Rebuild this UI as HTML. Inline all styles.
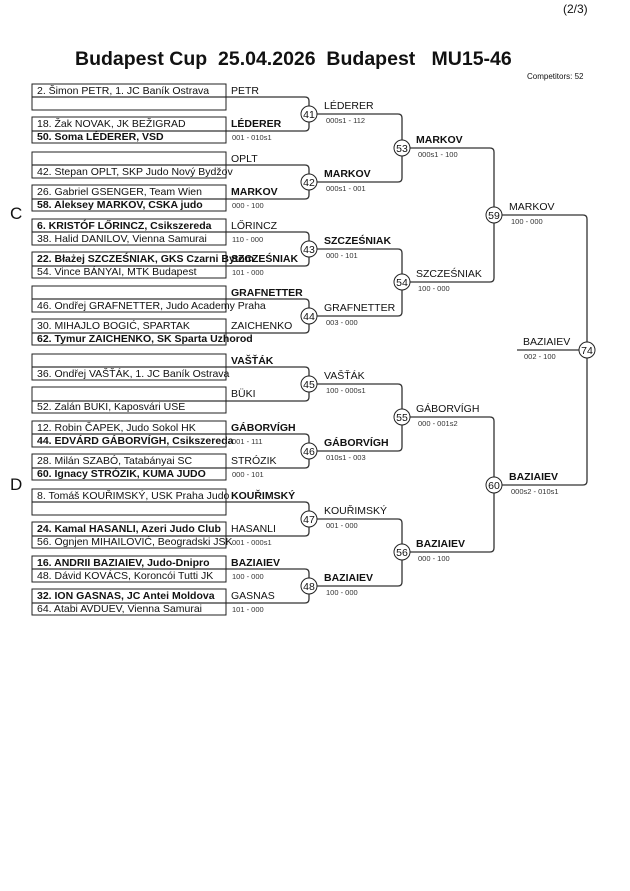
<!DOCTYPE html>
<html><head><meta charset="utf-8"><style>
html,body{margin:0;padding:0;background:#fff;width:630px;height:891px;overflow:hidden}
svg{display:block}
text{font-family:"Liberation Sans",Arial,sans-serif;fill:#111}
.n{font-size:10.5px}
.b{font-size:10.5px;font-weight:bold}
.s{font-size:7.5px;fill:#333}
.c{font-size:10.5px;text-anchor:middle}
rect{fill:none;stroke:#222;stroke-width:1}
path{fill:none;stroke:#333;stroke-width:1.3}
circle{fill:#fff;stroke:#222;stroke-width:1}
</style></head><body>
<svg width="630" height="891" viewBox="0 0 630 891" xmlns="http://www.w3.org/2000/svg">
<text x="563" y="13" style="font-size:12px">(2/3)</text>
<text x="75" y="65" xml:space="preserve" style="font-size:19.5px;font-weight:bold;white-space:pre">Budapest Cup  25.04.2026  Budapest   MU15-46</text>
<text x="527" y="79" style="font-size:8px">Competitors: 52</text>
<text x="10" y="219" style="font-size:17px">C</text>
<text x="10" y="490" style="font-size:17px">D</text>

<g>
<path d="M32 97 H305 Q309 97 309 101 V127 Q309 131 305 131 H32"/>
<path d="M32 165 H305 Q309 165 309 169 V195 Q309 199 305 199 H32"/>
<path d="M32 232 H305 Q309 232 309 236 V262 Q309 266 305 266 H32"/>
<path d="M32 299 H305 Q309 299 309 303 V329 Q309 333 305 333 H32"/>
<path d="M32 367 H305 Q309 367 309 371 V397 Q309 401 305 401 H32"/>
<path d="M32 434 H305 Q309 434 309 438 V464 Q309 468 305 468 H32"/>
<path d="M32 502 H305 Q309 502 309 506 V532 Q309 536 305 536 H32"/>
<path d="M32 569 H305 Q309 569 309 573 V599 Q309 603 305 603 H32"/>
</g>
<g>
<rect x="32" y="84" width="194" height="26"/><rect x="32" y="117" width="194" height="26"/>
<rect x="32" y="152" width="194" height="26"/><rect x="32" y="185" width="194" height="26"/>
<rect x="32" y="219" width="194" height="26"/><rect x="32" y="252" width="194" height="26"/>
<rect x="32" y="286" width="194" height="26"/><rect x="32" y="319" width="194" height="26"/>
<rect x="32" y="354" width="194" height="26"/><rect x="32" y="387" width="194" height="26"/>
<rect x="32" y="421" width="194" height="26"/><rect x="32" y="454" width="194" height="26"/>
<rect x="32" y="489" width="194" height="26"/><rect x="32" y="522" width="194" height="26"/>
<rect x="32" y="556" width="194" height="26"/><rect x="32" y="589" width="194" height="26"/>
</g>

<path d="M309 114 H398 Q402 114 402 118 V178 Q402 182 398 182 H309"/>
<path d="M309 249 H398 Q402 249 402 253 V312 Q402 316 398 316 H309"/>
<path d="M309 384 H398 Q402 384 402 388 V447 Q402 451 398 451 H309"/>
<path d="M309 519 H398 Q402 519 402 523 V582 Q402 586 398 586 H309"/>
<path d="M402 148 H490 Q494 148 494 152 V278 Q494 282 490 282 H402"/>
<path d="M402 417 H490 Q494 417 494 421 V548 Q494 552 490 552 H402"/>
<path d="M494 215 H583 Q587 215 587 219 V481 Q587 485 583 485 H494"/>
<path d="M517 350 H587"/>

<circle cx="309" cy="114" r="8"/><text class="c" x="309" y="118">41</text>
<circle cx="309" cy="182" r="8"/><text class="c" x="309" y="186">42</text>
<circle cx="309" cy="249" r="8"/><text class="c" x="309" y="253">43</text>
<circle cx="309" cy="316" r="8"/><text class="c" x="309" y="320">44</text>
<circle cx="309" cy="384" r="8"/><text class="c" x="309" y="388">45</text>
<circle cx="309" cy="451" r="8"/><text class="c" x="309" y="455">46</text>
<circle cx="309" cy="519" r="8"/><text class="c" x="309" y="523">47</text>
<circle cx="309" cy="586" r="8"/><text class="c" x="309" y="590">48</text>
<circle cx="402" cy="148" r="8"/><text class="c" x="402" y="152">53</text>
<circle cx="402" cy="282" r="8"/><text class="c" x="402" y="286">54</text>
<circle cx="402" cy="417" r="8"/><text class="c" x="402" y="421">55</text>
<circle cx="402" cy="552" r="8"/><text class="c" x="402" y="556">56</text>
<circle cx="494" cy="215" r="8"/><text class="c" x="494" y="219">59</text>
<circle cx="494" cy="485" r="8"/><text class="c" x="494" y="489">60</text>
<circle cx="587" cy="350" r="8"/><text class="c" x="587" y="354">74</text>

<text class="n" x="37" y="94">2. Šimon PETR, 1. JC Baník Ostrava</text>
<text class="n" x="37" y="127">18. Žak NOVAK, JK BEŽIGRAD</text>
<text class="b" x="37" y="140">50. Soma LÉDERER, VSD</text>
<text class="n" x="231" y="94">PETR</text>
<text class="b" x="231" y="127">LÉDERER</text>
<text class="s" x="232" y="140">001 - 010s1</text>

<text class="n" x="37" y="175">42. Stepan OPLT, SKP Judo Nový Bydžov</text>
<text class="n" x="37" y="195">26. Gabriel GSENGER, Team Wien</text>
<text class="b" x="37" y="208">58. Aleksey MARKOV, CSKA judo</text>
<text class="n" x="231" y="162">OPLT</text>
<text class="b" x="231" y="195">MARKOV</text>
<text class="s" x="232" y="208">000 - 100</text>

<text class="b" x="37" y="229">6. KRISTÓF LŐRINCZ, Csikszereda</text>
<text class="n" x="37" y="242">38. Halid DANILOV, Vienna Samurai</text>
<text class="b" x="37" y="262">22. Błażej SZCZEŚNIAK, GKS Czarni Bytom</text>
<text class="n" x="37" y="275">54. Vince BÁNYAI, MTK Budapest</text>
<text class="n" x="231" y="229">LŐRINCZ</text>
<text class="s" x="232" y="242">110 - 000</text>
<text class="b" x="231" y="262">SZCZEŚNIAK</text>
<text class="s" x="232" y="275">101 - 000</text>

<text class="n" x="37" y="309">46. Ondřej GRAFNETTER, Judo Academy Praha</text>
<text class="n" x="37" y="329">30. MIHAJLO BOGIĆ, SPARTAK</text>
<text class="b" x="37" y="342">62. Tymur ZAICHENKO, SK Sparta Uzhorod</text>
<text class="b" x="231" y="296">GRAFNETTER</text>
<text class="n" x="231" y="329">ZAICHENKO</text>

<text class="n" x="37" y="377">36. Ondřej VAŠŤÁK, 1. JC Baník Ostrava</text>
<text class="n" x="37" y="410">52. Zalán BUKI, Kaposvári USE</text>
<text class="b" x="231" y="364">VAŠŤÁK</text>
<text class="n" x="231" y="397">BÜKI</text>

<text class="n" x="37" y="431">12. Robin ČAPEK, Judo Sokol HK</text>
<text class="b" x="37" y="444">44. EDVÁRD GÁBORVÍGH, Csikszereda</text>
<text class="n" x="37" y="464">28. Milán SZABÓ, Tatabányai SC</text>
<text class="b" x="37" y="477">60. Ignacy STRÓZIK, KUMA JUDO</text>
<text class="b" x="231" y="431">GÁBORVÍGH</text>
<text class="s" x="232" y="444">001 - 111</text>
<text class="n" x="231" y="464">STRÓZIK</text>
<text class="s" x="232" y="477">000 - 101</text>

<text class="n" x="37" y="499">8. Tomáš KOUŘIMSKÝ, USK Praha Judo</text>
<text class="b" x="37" y="532">24. Kamal HASANLI, Azeri Judo Club</text>
<text class="n" x="37" y="545">56. Ognjen MIHAILOVIĆ, Beogradski JSK</text>
<text class="b" x="231" y="499">KOUŘIMSKÝ</text>
<text class="n" x="231" y="532">HASANLI</text>
<text class="s" x="232" y="545">001 - 000s1</text>

<text class="b" x="37" y="566">16. ANDRII BAZIAIEV, Judo-Dnipro</text>
<text class="n" x="37" y="579">48. Dávid KOVÁCS, Koroncói Tutti JK</text>
<text class="b" x="37" y="599">32. ION GASNAS, JC Antei Moldova</text>
<text class="n" x="37" y="612">64. Atabi AVDUEV, Vienna Samurai</text>
<text class="b" x="231" y="566">BAZIAIEV</text>
<text class="s" x="232" y="579">100 - 000</text>
<text class="n" x="231" y="599">GASNAS</text>
<text class="s" x="232" y="612">101 - 000</text>

<text class="n" x="324" y="109">LÉDERER</text><text class="s" x="326" y="123">000s1 - 112</text>
<text class="b" x="324" y="177">MARKOV</text><text class="s" x="326" y="191">000s1 - 001</text>
<text class="b" x="324" y="244">SZCZEŚNIAK</text><text class="s" x="326" y="258">000 - 101</text>
<text class="n" x="324" y="311">GRAFNETTER</text><text class="s" x="326" y="325">003 - 000</text>
<text class="n" x="324" y="379">VAŠŤÁK</text><text class="s" x="326" y="393">100 - 000s1</text>
<text class="b" x="324" y="446">GÁBORVÍGH</text><text class="s" x="326" y="460">010s1 - 003</text>
<text class="n" x="324" y="514">KOUŘIMSKÝ</text><text class="s" x="326" y="528">001 - 000</text>
<text class="b" x="324" y="581">BAZIAIEV</text><text class="s" x="326" y="595">100 - 000</text>
<text class="b" x="416" y="143">MARKOV</text><text class="s" x="418" y="157">000s1 - 100</text>
<text class="n" x="416" y="277">SZCZEŚNIAK</text><text class="s" x="418" y="291">100 - 000</text>
<text class="n" x="416" y="412">GÁBORVÍGH</text><text class="s" x="418" y="426">000 - 001s2</text>
<text class="b" x="416" y="547">BAZIAIEV</text><text class="s" x="418" y="561">000 - 100</text>
<text class="n" x="509" y="210">MARKOV</text><text class="s" x="511" y="224">100 - 000</text>
<text class="b" x="509" y="480">BAZIAIEV</text><text class="s" x="511" y="494">000s2 - 010s1</text>
<text class="n" x="523" y="345">BAZIAIEV</text><text class="s" x="524" y="359">002 - 100</text>
</svg>
</body></html>
